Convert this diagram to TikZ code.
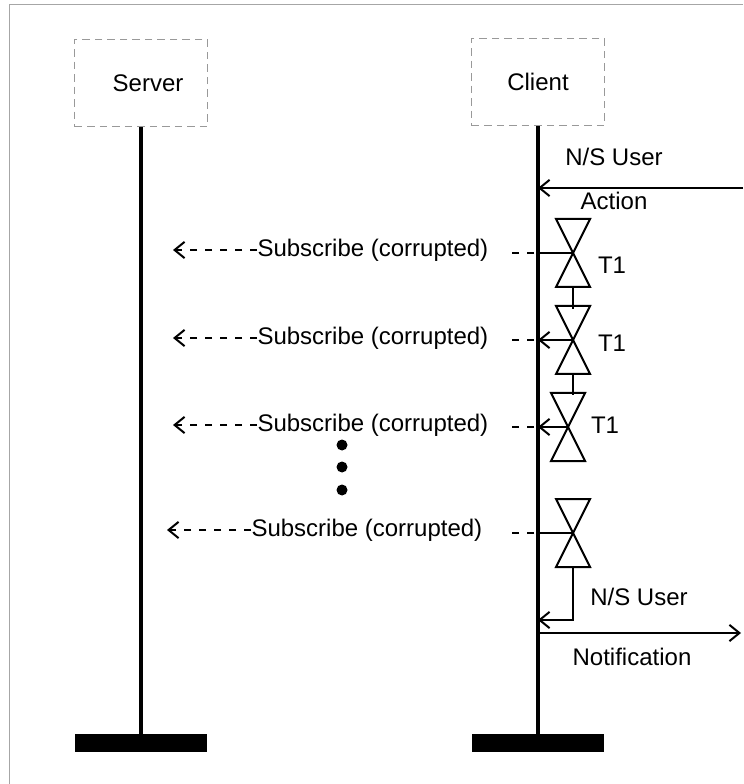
\documentclass[tikz,border=0pt]{standalone}
\usepackage{fontspec}
\setmainfont{Liberation Sans}
\usetikzlibrary{arrows.meta}

\begin{document}
\begin{tikzpicture}[x=0.4pt,y=-0.4pt,font=\fontsize{9.6}{11}\selectfont,
    >={Straight Barb[length=4pt,width=6.5pt]},
    actor/.style={draw=gray!80,densely dashed,thin,minimum width=53pt,minimum height=35pt},
    lifebar/.style={fill=black,minimum width=53pt,minimum height=7pt,inner sep=0pt},
    lifeline/.style={line width=1.6pt},
    timer/.style={thick},
    msg/.style={anchor=west,inner sep=0pt}]
  \useasboundingbox (0,0) rectangle (743,784);
  % frame
  \draw[gray!70,thin] (9,784) -- (9,5) -- (743,5);
  % actors
  \node[actor] (server) at (141,83) {\hspace{5.6pt}Server};
  \node[actor] (client) at (538,82) {Client};
  \node[lifebar] (sbar) at (141,743) {};
  \node[lifebar] (cbar) at (538,743) {};
  \draw[lifeline] (server.south) -- (sbar.north);
  \draw[lifeline] (client.south) -- (cbar.north);
  % user action
  \coordinate (act) at (743,188);
  \draw[thick,->] (act) -- (act -| client);
  \node (act1) at (614,157) {N/S User};
  \node (act2) at (614,201) {Action};
  % timers
  \coordinate (ta) at (573,253);
  \coordinate (tb) at (573,340);
  \coordinate (tc) at (568,427);
  \coordinate (td) at (573,533);
  \foreach \t in {ta,tb,tc,td}
    \draw[timer] (\t) -- ++(-17,-34) -- ++(34,0) -- cycle
                 (\t) -- ++(-17,34) -- ++(34,0) -- cycle;
  \draw[timer] (ta) ++(0,34) -- ++(0,22);
  \draw[timer] (tb) ++(0,33) -- ++(0,22);
  \node (t1a) at (612,265) {T1};
  \node (t1b) at (612,343) {T1};
  \node (t1c) at (605,425) {T1};
  % subscribe messages
  \draw[thick] (ta) -- (ta -| client);
  \draw[thick,->] (tb) -- (tb -| client);
  \draw[thick,->] (tc) -- (tc -| client);
  \draw[thick] (td) -- (td -| client);
  \foreach \t in {ta,tb,tc,td}
    \draw[thick,dashed] (\t -| client) ++(-4,0) -- ++(-30,0);
  \node[msg] (sa) at (257,250) {Subscribe (corrupted)};
  \node[msg] (sb) at (257,338) {Subscribe (corrupted)};
  \node[msg] (sc) at (257,425) {Subscribe (corrupted)};
  \node[msg] (sd) at (251,530) {Subscribe (corrupted)};
  \foreach \s in {sa,sb,sc}
    \draw[thick,dashed,->] (\s.west) -- ++(-84,0);
  \draw[thick,dashed,->] (sd.west) -- ++(-84,0);
  % more messages
  \fill (342,445) circle (2.2pt) (342,467) circle (2.2pt) (342,490) circle (2.2pt);
  % notification
  \coordinate (tend) at (573,620);
  \draw[thick,->] (td) ++(0,34) -- (tend) -- (tend -| client);
  \coordinate (ntf) at (741,633);
  \draw[thick,->] (ntf -| client) -- (ntf);
  \node (ntf1) at (639,597) {N/S User};
  \node (ntf2) at (632,657) {Notification};
\end{tikzpicture}
\end{document}
